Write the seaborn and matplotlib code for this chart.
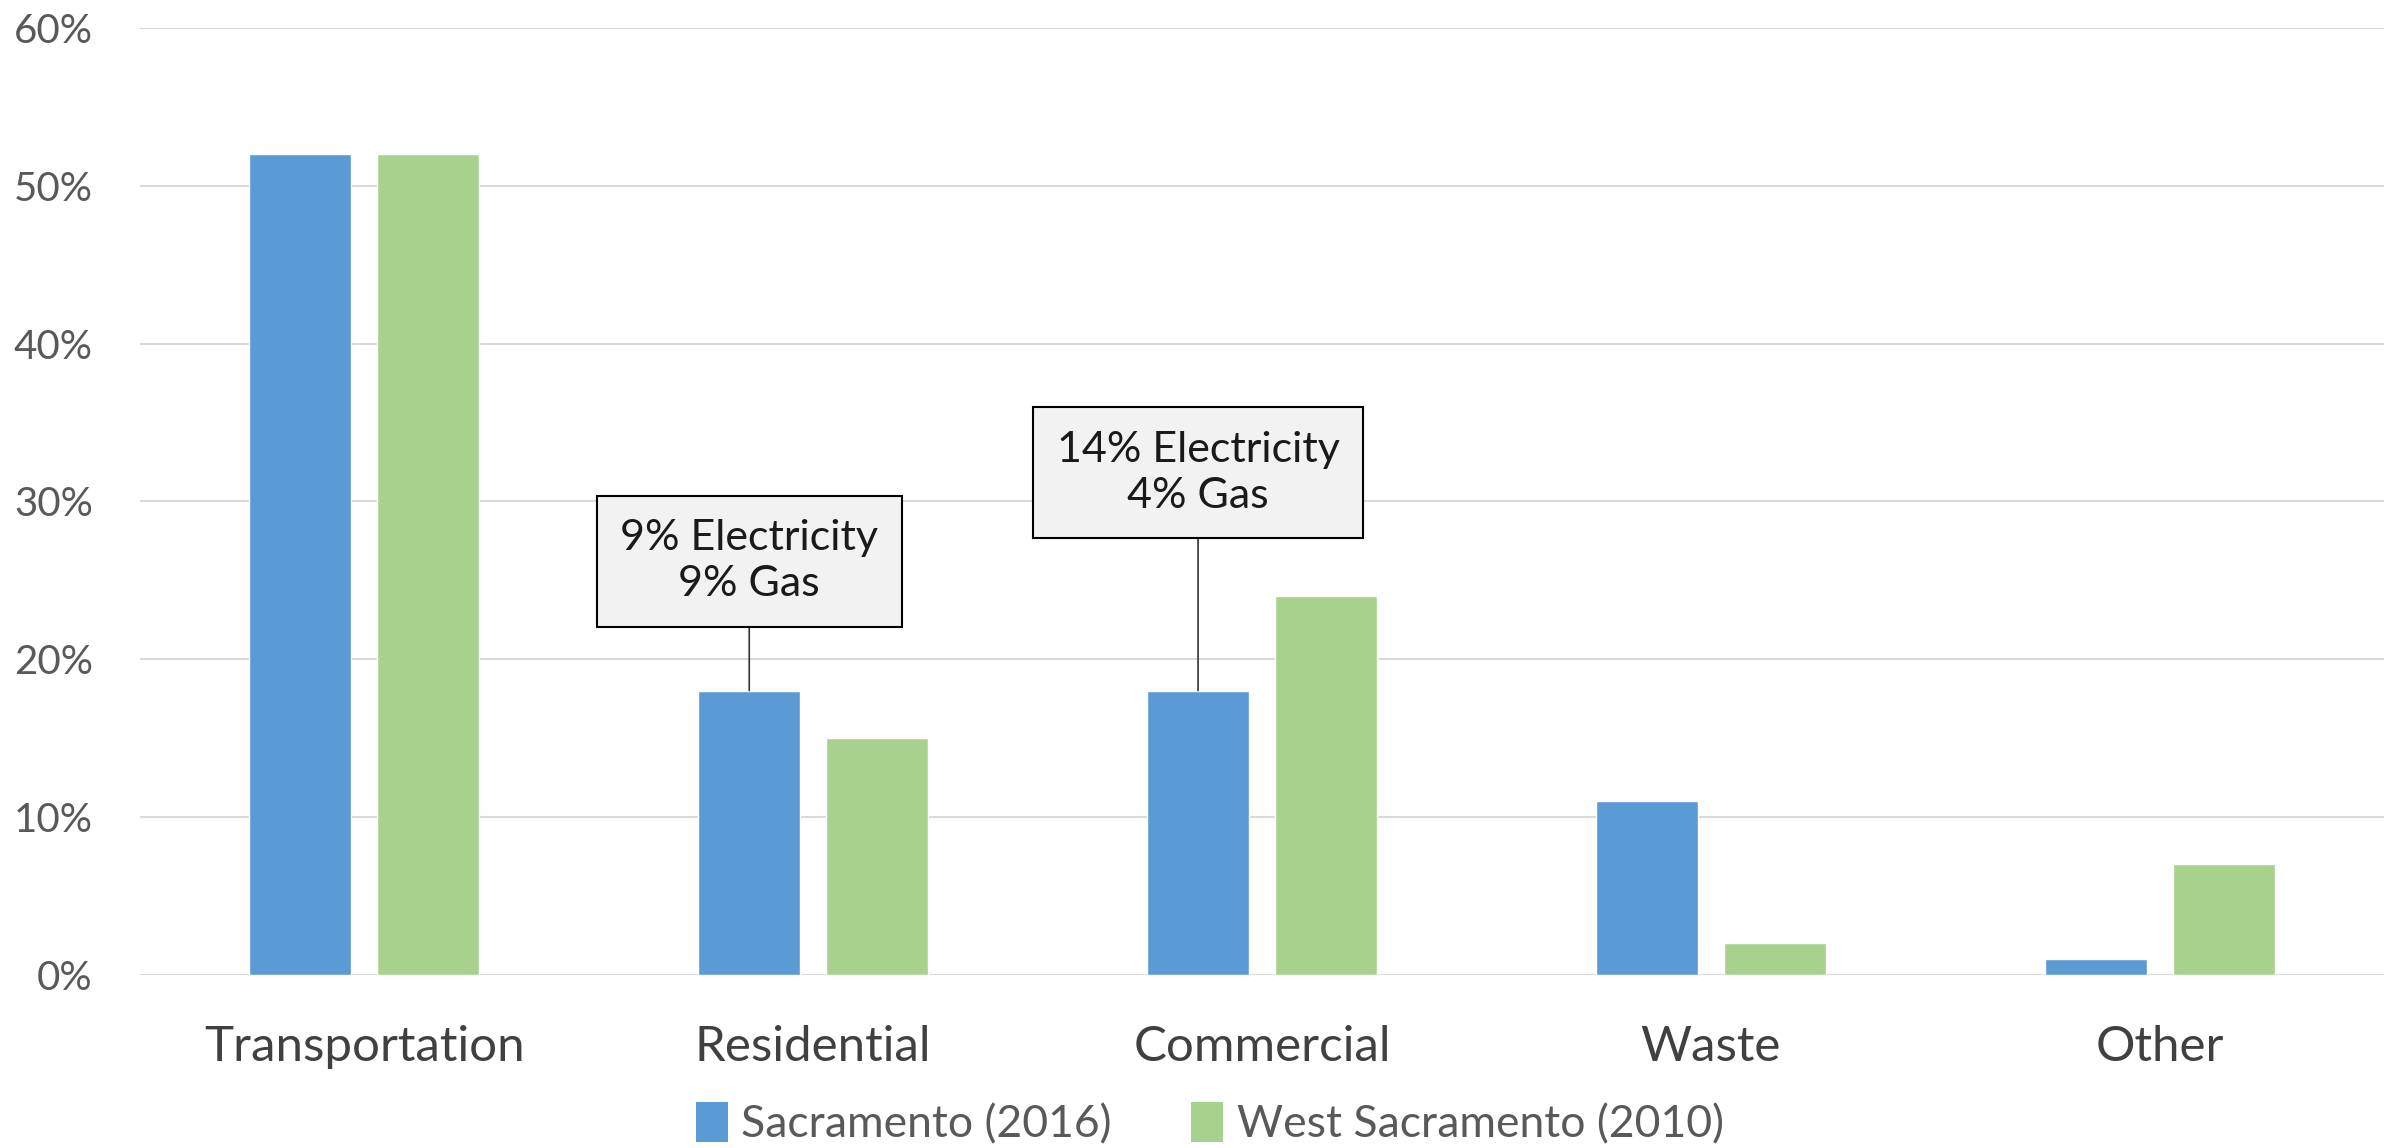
import matplotlib
matplotlib.use("Agg")
import matplotlib.pyplot as plt
import seaborn as sns
import pandas as pd
from matplotlib.ticker import PercentFormatter
from matplotlib.patches import Patch

categories = ["Transportation", "Residential", "Commercial", "Waste", "Other"]
sacramento_2016 = [0.52, 0.18, 0.18, 0.11, 0.01]
west_sacramento_2010 = [0.52, 0.15, 0.24, 0.02, 0.07]
series_names = ["Sacramento (2016)", "West Sacramento (2010)"]
notes = {"Residential": ("9% Electricity\n9% Gas", 0.262),
         "Commercial": ("14% Electricity\n4% Gas", 0.318)}
y_ticks = [0, 0.1, 0.2, 0.3, 0.4, 0.5, 0.6]

df = pd.DataFrame({
    "Category": categories * 2,
    "Share": sacramento_2016 + west_sacramento_2010,
    "Series": [series_names[0]] * 5 + [series_names[1]] * 5,
})

sns.set_theme(style="white")
plt.rcParams["font.family"] = ["Lato", "DejaVu Sans"]

fig = plt.figure(figsize=(24.05, 11.48), dpi=100)
left, right, bottom, top = 0.0582, 0.9913, 0.1511, 0.9756
ax = fig.add_axes([left, bottom, right - left, top - bottom])

palette = {series_names[0]: "#5B9BD5", series_names[1]: "#A9D18E"}
sns.barplot(data=df, x="Category", y="Share", hue="Series", palette=palette,
            width=0.570, gap=0.203, ax=ax, legend=False, saturation=1)

ax.set_ylim(0, 0.6)
ax.set_xlim(-0.5, 4.5)
ax.set_yticks(y_ticks)
ax.yaxis.set_major_formatter(PercentFormatter(1.0, decimals=0))
ax.grid(axis="y", color="#D9D9D9", linewidth=1.5)
ax.set_axisbelow(True)
for s in ax.spines.values():
    s.set_visible(False)
ax.set_xlabel("")
ax.set_ylabel("")
ax.tick_params(axis="y", labelsize=29, labelcolor="#595959", pad=34, length=0)
ax.tick_params(axis="x", labelsize=35.5, labelcolor="#404040", pad=36, length=0)

blue_bars = ax.containers[0]
for i, cat in enumerate(categories):
    if cat in notes:
        text, ybox = notes[cat]
        bar = blue_bars[i]
        xc = bar.get_x() + bar.get_width() / 2
        ax.annotate(text, xy=(xc, bar.get_height()), xytext=(xc, ybox),
                    ha="center", va="center", fontsize=31, color="#1a1a1a",
                    linespacing=1.25,
                    bbox=dict(boxstyle="square,pad=0.55", fc="#F2F2F2", ec="black", lw=1.5),
                    arrowprops=dict(arrowstyle="-", color="#333333", lw=1.2,
                                    shrinkA=0, shrinkB=0))

handles = [Patch(facecolor=palette[n], edgecolor="none", label=n) for n in series_names]
fig.legend(handles=handles, loc="center", bbox_to_anchor=(0.503, 0.021), ncol=2,
           frameon=False, fontsize=32, labelcolor="#595959", handlelength=0.72,
           handleheight=1.0, handletextpad=0.3, columnspacing=1.8)

fig.savefig("out.png", dpi=100)
